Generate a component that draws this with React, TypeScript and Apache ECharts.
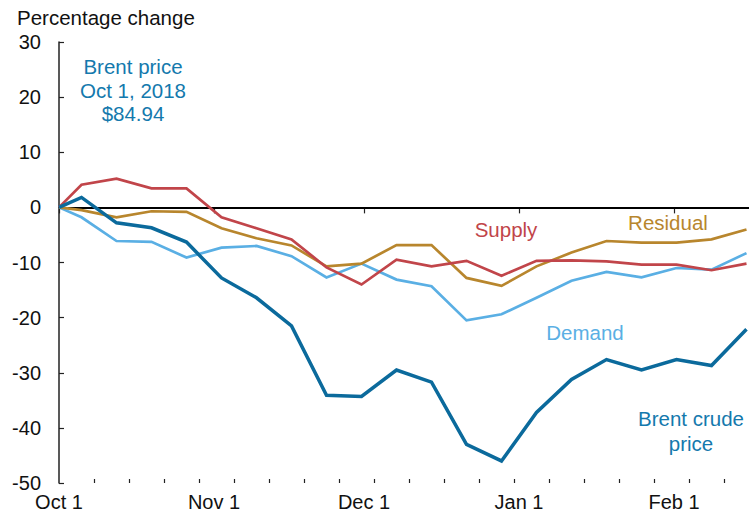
import React, { useEffect, useRef } from "react";
import * as echarts from "echarts";

// Weekly observations (first point is the Oct 1, 2018 base)
const dates: string[] = [
  "2018-10-01T00:00:00",
  "2018-10-05T12:00:00",
  "2018-10-12T12:00:00",
  "2018-10-19T12:00:00",
  "2018-10-26T12:00:00",
  "2018-11-02T12:00:00",
  "2018-11-09T12:00:00",
  "2018-11-16T12:00:00",
  "2018-11-23T12:00:00",
  "2018-11-30T12:00:00",
  "2018-12-07T12:00:00",
  "2018-12-14T12:00:00",
  "2018-12-21T12:00:00",
  "2018-12-28T12:00:00",
  "2019-01-04T12:00:00",
  "2019-01-11T12:00:00",
  "2019-01-18T12:00:00",
  "2019-01-25T12:00:00",
  "2019-02-01T12:00:00",
  "2019-02-08T12:00:00",
  "2019-02-15T12:00:00",
];

const brent: number[] = [
  0, 1.8, -2.8, -3.7, -6.3, -12.8, -16.4, -21.5, -34.1, -34.3, -29.5, -31.7,
  -43.0, -46.0, -37.2, -31.2, -27.6, -29.5, -27.6, -28.7, -22.1,
];
const supply: number[] = [
  0, 4.1, 5.2, 3.45, 3.45, -1.8, -3.8, -5.8, -10.9, -14.0, -9.5, -10.7, -9.7,
  -12.4, -9.7, -9.6, -9.8, -10.4, -10.4, -11.4, -10.2,
];
const residual: number[] = [
  0, -0.5, -1.8, -0.7, -0.8, -3.8, -5.6, -6.9, -10.7, -10.2, -6.85, -6.85,
  -12.8, -14.25, -10.7, -8.2, -6.1, -6.4, -6.4, -5.8, -4.0,
];
const demand: number[] = [
  0, -1.8, -6.1, -6.25, -9.1, -7.3, -7.0, -8.85, -12.7, -10.2, -13.1, -14.3,
  -20.5, -19.4, -16.4, -13.3, -11.7, -12.7, -11.0, -11.3, -8.3,
];

const monthTicks: string[] = [
  "2018-10-01T00:00:00",
  "2018-11-01T00:00:00",
  "2018-12-01T00:00:00",
  "2019-01-01T00:00:00",
  "2019-02-01T00:00:00",
];
const monthLabels: string[] = ["Oct 1", "Nov 1", "Dec 1", "Jan 1", "Feb 1"];
const weekTicks: string[] = [
  "2018-10-08T00:00:00",
  "2018-10-15T00:00:00",
  "2018-10-22T00:00:00",
  "2018-10-29T00:00:00",
  "2018-11-05T00:00:00",
  "2018-11-12T00:00:00",
  "2018-11-19T00:00:00",
  "2018-11-26T00:00:00",
  "2018-12-03T00:00:00",
  "2018-12-10T00:00:00",
  "2018-12-17T00:00:00",
  "2018-12-24T00:00:00",
  "2018-12-31T00:00:00",
  "2019-01-07T00:00:00",
  "2019-01-14T00:00:00",
  "2019-01-21T00:00:00",
  "2019-01-28T00:00:00",
  "2019-02-04T00:00:00",
  "2019-02-11T00:00:00",
];
const xMin = "2018-10-01T00:00:00";
const xMax = "2019-02-16T00:00:00";
const yTicks = { min: -50, max: 30, interval: 10 };

const ts = (s: string) => new Date(s).getTime();

const FONT = "Liberation Sans, Arial, Helvetica, sans-serif";
const C_BRENT = "#0b6a9c";
const C_BRENT_TXT = "#1479ad";
const C_DEMAND = "#5aafe4";
const C_SUPPLY = "#c1454a";
const C_RESID = "#b8862d";

export default function App() {
  const ref = useRef<HTMLDivElement>(null);
  useEffect(() => {
    if (!ref.current) return;
    const chart = echarts.init(ref.current, undefined, { renderer: "svg" });
    const monthTs = monthTicks.map(ts);
    const mk = (vals: number[]) => vals.map((v, i) => [ts(dates[i]), v]);
    const lineSeries = (
      name: string,
      vals: number[],
      color: string,
      width: number,
      z: number
    ) => ({
      type: "line",
      name,
      data: mk(vals),
      showSymbol: false,
      symbol: "none",
      lineStyle: { color, width, join: "miter" },
      itemStyle: { color },
      z,
      silent: true,
    });
    chart.setOption({
      animation: false,
      textStyle: { fontFamily: FONT },
      grid: { left: 59, right: 0, top: 42, bottom: 36 },
      xAxis: [
        {
          type: "value",
          min: ts(xMin),
          max: ts(xMax),
          splitLine: { show: false },
          axisLine: { show: true, lineStyle: { color: "#222", width: 1.5 } },
          axisTick: {
            show: true,
            inside: false,
            length: 6,
            customValues: monthTs,
            lineStyle: { color: "#222", width: 1.2 },
          },
          axisLabel: {
            customValues: monthTs,
            fontSize: 20,
            color: "#111",
            margin: 9,
            fontFamily: FONT,
            formatter: (v: number) => {
              const i = monthTs.indexOf(v);
              return i >= 0 ? monthLabels[i] : "";
            },
          },
        },
        {
          type: "value",
          position: "bottom",
          min: ts(xMin),
          max: ts(xMax),
          splitLine: { show: false },
          axisLine: { show: false },
          axisLabel: { show: false },
          axisTick: {
            show: true,
            inside: true,
            length: 4,
            customValues: weekTicks.map(ts),
            lineStyle: { color: "#222", width: 1.2 },
          },
        },
      ],
      yAxis: {
        type: "value",
        min: yTicks.min,
        max: yTicks.max,
        interval: yTicks.interval,
        splitLine: { show: false },
        axisLine: { show: true, lineStyle: { color: "#222", width: 1.5 } },
        axisTick: {
          show: true,
          inside: true,
          length: 5,
          lineStyle: { color: "#222", width: 1.2 },
        },
        axisLabel: {
          fontSize: 20,
          color: "#111",
          margin: 18,
          fontFamily: FONT,
        },
      },
      series: [
        {
          ...lineSeries("Demand", demand, C_DEMAND, 2.7, 2),
          markLine: {
            silent: true,
            symbol: "none",
            label: { show: false },
            lineStyle: { color: "#000", width: 2, type: "solid" },
            data: [{ yAxis: 0 }],
            z: 1,
          },
        },
        lineSeries("Residual", residual, C_RESID, 2.7, 3),
        lineSeries("Supply", supply, C_SUPPLY, 2.7, 4),
        lineSeries("Brent crude price", brent, C_BRENT, 3.5, 5),
      ],
      graphic: [
        {
          type: "text",
          x: 17,
          y: 17,
          style: {
            text: "Percentage change",
            fill: "#111",
            font: `20.5px ${FONT}`,
            align: "left",
            verticalAlign: "middle",
          },
        },
        {
          type: "text",
          x: 133,
          y: 90,
          style: {
            text: "Brent price\nOct 1, 2018\n$84.94",
            fill: C_BRENT_TXT,
            font: `20.5px ${FONT}`,
            lineHeight: 23.5,
            align: "center",
            verticalAlign: "middle",
          },
        },
        {
          type: "text",
          x: 506,
          y: 229,
          style: {
            text: "Supply",
            fill: C_SUPPLY,
            font: `20.5px ${FONT}`,
            align: "center",
            verticalAlign: "middle",
          },
        },
        {
          type: "text",
          x: 668,
          y: 222,
          style: {
            text: "Residual",
            fill: C_RESID,
            font: `20.5px ${FONT}`,
            align: "center",
            verticalAlign: "middle",
          },
        },
        {
          type: "text",
          x: 585,
          y: 332,
          style: {
            text: "Demand",
            fill: C_DEMAND,
            font: `20.5px ${FONT}`,
            align: "center",
            verticalAlign: "middle",
          },
        },
        {
          type: "text",
          x: 691,
          y: 430.5,
          style: {
            text: "Brent crude\nprice",
            fill: C_BRENT_TXT,
            font: `20.5px ${FONT}`,
            lineHeight: 25,
            align: "center",
            verticalAlign: "middle",
          },
        },
      ],
    });
    return () => chart.dispose();
  }, []);
  return (
    <div
      ref={ref}
      style={{ position: "absolute", left: 0, top: 0, width: 749, height: 519 }}
    />
  );
}
